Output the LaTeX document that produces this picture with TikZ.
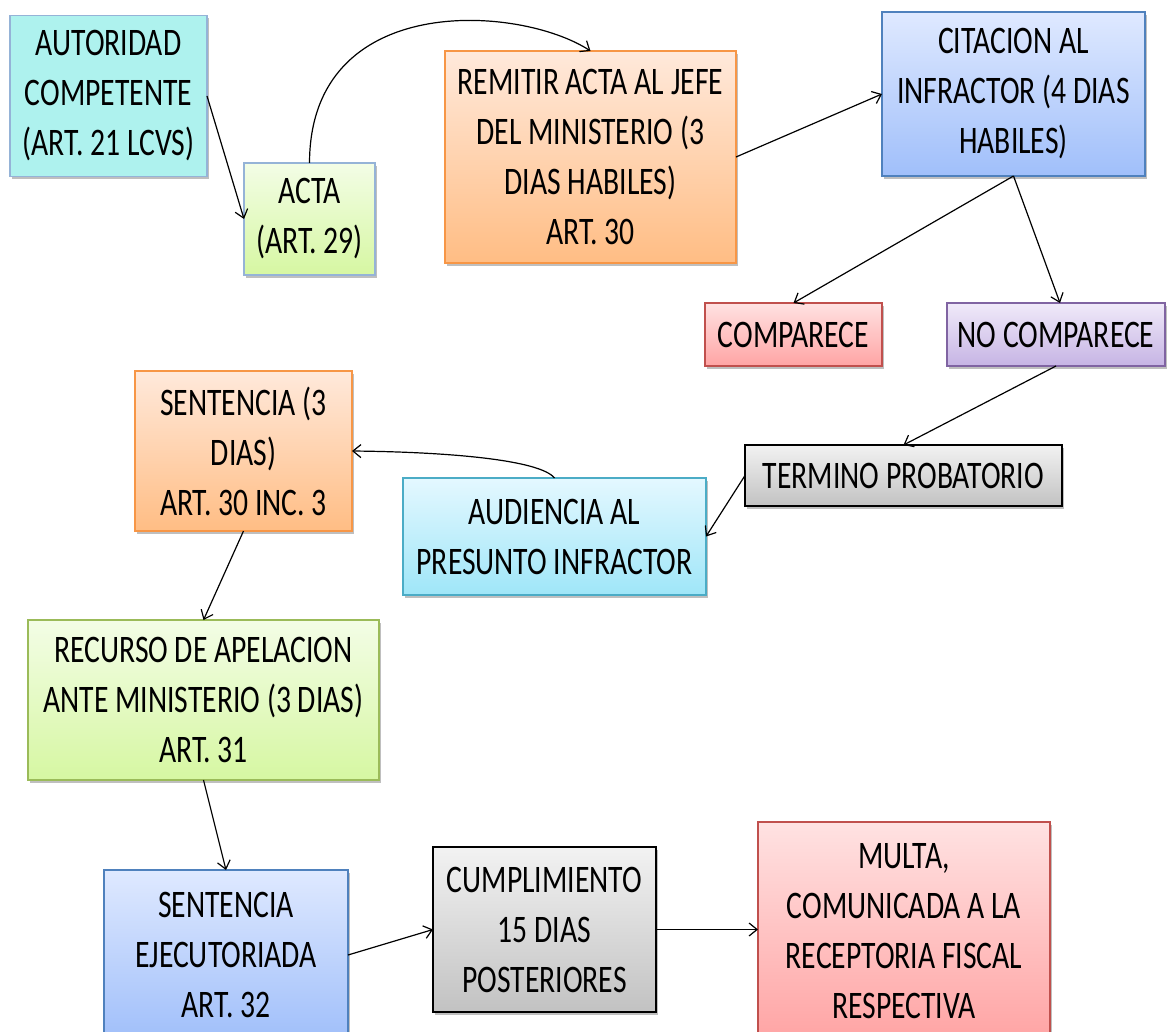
\documentclass[tikz,border=0pt]{standalone}
\usepackage{fontspec}
\setmainfont{Carlito}[FakeStretch=0.76]
\usetikzlibrary{arrows.meta,shadows}
\definecolor{orgT}{HTML}{FFE9DB}
\definecolor{orgB}{HTML}{FFBD84}
\definecolor{orgD}{HTML}{F79646}
\definecolor{bluT}{HTML}{DFE9FF}
\definecolor{bluB}{HTML}{A0BFFA}
\definecolor{bluD}{HTML}{4F81BD}
\definecolor{grnT}{HTML}{F3FDE6}
\definecolor{grnB}{HTML}{D6F7A2}
\definecolor{grnD}{HTML}{9BBB59}
\definecolor{redT}{HTML}{FFE2E2}
\definecolor{redB}{HTML}{FFA4A4}
\definecolor{redD}{HTML}{C0504D}
\definecolor{purT}{HTML}{F0EAF9}
\definecolor{purB}{HTML}{C6B4E4}
\definecolor{purD}{HTML}{8064A2}
\definecolor{gryT}{HTML}{F2F2F2}
\definecolor{gryB}{HTML}{C2C2C2}
\definecolor{cyaT}{HTML}{E4F8FF}
\definecolor{cyaB}{HTML}{9FE6F8}
\definecolor{cyaD}{HTML}{4BACC6}
\definecolor{autF}{HTML}{AEF2EE}
\definecolor{lbD}{HTML}{95B3D7}
\tikzset{
  box/.style={draw, line width=1.2pt, inner sep=0pt, outer sep=0pt, align=center,
    font=\fontsize{39}{50}\selectfont,
    drop shadow={shadow xshift=1.5pt, shadow yshift=-3pt, opacity=0.25, fill=black}},
  orangebox/.style={box, draw=orgD, top color=orgT, bottom color=orgB},
  bluebox/.style={box, draw=bluD, top color=bluT, bottom color=bluB},
  greenbox/.style={box, draw=grnD, top color=grnT, bottom color=grnB},
  redbox/.style={box, draw=redD, top color=redT, bottom color=redB},
  purplebox/.style={box, draw=purD, top color=purT, bottom color=purB},
  graybox/.style={box, draw=black, top color=gryT, bottom color=gryB},
  cyanbox/.style={box, draw=cyaD, top color=cyaT, bottom color=cyaB},
  arr/.style={-{Straight Barb[length=8pt,width=13pt]}, line width=1.2pt}
}
\begin{document}
\begin{tikzpicture}[x=1pt,y=-1pt]
\useasboundingbox (0,0) rectangle (1167,1032);
\fill[white] (0,0) rectangle (1167,1032);
\node[box, draw=lbD, fill=autF, minimum width=197pt, minimum height=161pt] (aut) at (108.5,96) {AUTORIDAD\\COMPETENTE\\(ART. 21 LCVS)};
\node[greenbox, draw=lbD, minimum width=131pt, minimum height=112pt] (acta) at (309.5,219) {ACTA\\(ART. 29)};
\node[orangebox, minimum width=291pt, minimum height=212pt] (remit) at (590.5,157) {REMITIR ACTA AL JEFE\\DEL MINISTERIO (3\\DIAS HABILES)\\ART. 30};
\node[bluebox, minimum width=263pt, minimum height=164pt] (cit) at (1013.5,94) {CITACION AL\\INFRACTOR (4 DIAS\\HABILES)};
\node[redbox, minimum width=177pt, minimum height=63pt] (comp) at (793.5,334.5) {COMPARECE};
\node[purplebox, minimum width=218pt, minimum height=63pt] (nocomp) at (1056,334.5) {NO COMPARECE};
\node[graybox, minimum width=317pt, minimum height=61pt] (term) at (903.5,475.5) {TERMINO PROBATORIO};
\node[orangebox, minimum width=217pt, minimum height=160pt] (sent) at (243.5,451) {SENTENCIA (3\\DIAS)\\ART. 30 INC. 3};
\node[cyanbox, minimum width=303pt, minimum height=117pt] (aud) at (554.5,536.5) {AUDIENCIA AL\\PRESUNTO INFRACTOR};
\node[greenbox, minimum width=351pt, minimum height=160pt] (rec) at (203.5,700) {RECURSO DE APELACION\\ANTE MINISTERIO (3 DIAS)\\ART. 31};
\node[bluebox, minimum width=244pt, minimum height=170pt] (sej) at (226,955) {SENTENCIA\\EJECUTORIADA\\ART. 32};
\node[graybox, minimum width=223pt, minimum height=165pt] (cum) at (544.5,929.5) {CUMPLIMIENTO\\15 DIAS\\POSTERIORES};
\node[redbox, minimum width=292pt, minimum height=218pt] (mul) at (904,931) {MULTA,\\COMUNICADA A LA\\RECEPTORIA FISCAL\\RESPECTIVA};
\draw[arr] (aut.east) -- (acta.west);
\draw[arr] (acta.north) .. controls (310,-10) and (520,5) .. (remit.north);
\draw[arr] (remit.east) -- (cit.west);
\draw[arr] (cit.south) -- (comp.north);
\draw[arr] (cit.south) -- ([xshift=4pt]nocomp.north);
\draw[arr] (nocomp.south) -- (term.north);
\draw[arr] (term.west) -- (aud.east);
\draw[arr] (aud.north) .. controls (540,460) and (450,452) .. (sent.east);
\draw[arr] (sent.south) -- (rec.north);
\draw[arr] (rec.south) -- (sej.north);
\draw[arr] (sej.east) -- (cum.west);
\draw[arr] (cum.east) -- (cum.east -| mul.west);
\end{tikzpicture}
\end{document}
